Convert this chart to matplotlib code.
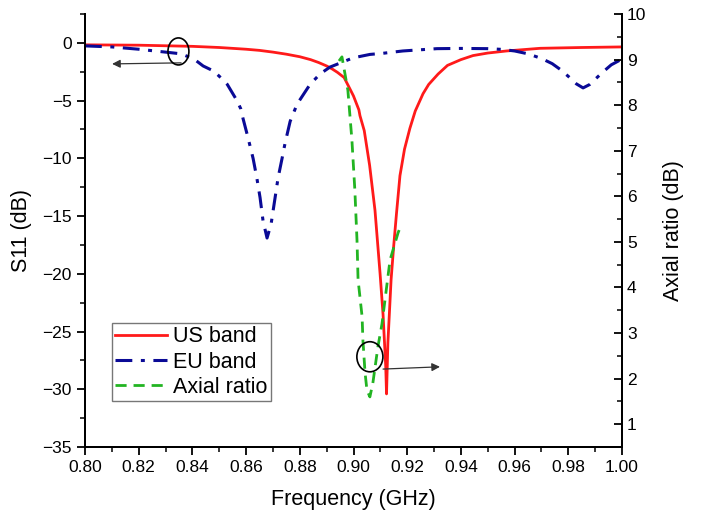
import matplotlib
matplotlib.use("Agg")
import matplotlib.pyplot as plt
from matplotlib.patches import Ellipse
from matplotlib.ticker import MultipleLocator, FormatStrFormatter

plt.rcParams['font.family'] = ['Liberation Sans', 'DejaVu Sans']

# US band S11 (dB)
us_freq = [0.800, 0.820, 0.840, 0.850, 0.860, 0.865, 0.870, 0.875, 0.880, 0.884,
           0.887, 0.890, 0.892, 0.894, 0.8965, 0.8987, 0.900, 0.902, 0.9024, 0.904,
           0.906, 0.908, 0.9099, 0.911, 0.912, 0.9123, 0.9128, 0.914, 0.915, 0.916,
           0.9173, 0.919, 0.921, 0.923, 0.9259, 0.928, 0.9315, 0.935, 0.940, 0.9445,
           0.950, 0.957, 0.9695, 0.985, 1.000]
us_s11 = [-0.17, -0.2, -0.3, -0.4, -0.55, -0.65, -0.8, -0.98, -1.2, -1.45,
          -1.7, -2.0, -2.25, -2.55, -3.0, -4.0, -4.6, -5.8, -6.3, -7.6,
          -10.6, -14.5, -20.0, -23.5, -28.0, -30.4, -26.0, -20.5, -17.5, -14.8,
          -11.5, -9.2, -7.4, -5.9, -4.4, -3.6, -2.7, -1.95, -1.45, -1.1,
          -0.88, -0.7, -0.47, -0.4, -0.35]

# EU band S11 (dB)
eu_freq = [0.800, 0.810, 0.820, 0.826, 0.832, 0.8358, 0.8406, 0.844, 0.848, 0.8505,
           0.853, 0.8566, 0.858, 0.8588, 0.8607, 0.8626, 0.864, 0.8652, 0.8663, 0.8678,
           0.8693, 0.8708, 0.8719, 0.8734, 0.8745, 0.8764, 0.879, 0.8838, 0.8875, 0.8912,
           0.8998, 0.9061, 0.911, 0.9184, 0.9311, 0.940, 0.950, 0.955, 0.960, 0.965,
           0.970, 0.974, 0.977, 0.980, 0.983, 0.9855, 0.988, 0.990, 0.993, 0.996, 1.000]
eu_s11 = [-0.26, -0.35, -0.55, -0.7, -0.85, -0.95, -1.4, -2.0, -2.45, -3.0,
          -3.6, -5.0, -5.7, -6.5, -8.2, -10.0, -11.7, -13.4, -15.4, -16.9,
          -15.7, -13.4, -11.7, -10.0, -8.7, -6.8, -5.3, -3.6, -2.7, -2.1,
          -1.3, -1.0, -0.9, -0.7, -0.5, -0.48, -0.5, -0.56, -0.7, -0.95,
          -1.35, -1.8, -2.3, -2.9, -3.55, -3.9, -3.6, -3.15, -2.5, -1.9, -1.4]

# Axial ratio (dB)
ar_freq = [0.8946, 0.8957, 0.8979, 0.8994, 0.9005, 0.9013, 0.9017, 0.9032, 0.9035,
           0.9043, 0.9050, 0.9061, 0.9072, 0.9091, 0.9106, 0.9121, 0.9136, 0.9166, 0.9170]
ar_db = [8.97, 9.06, 8.33, 7.24, 6.14, 5.04, 4.17, 3.36, 2.85,
         2.13, 1.75, 1.6, 1.9, 2.7, 3.2, 3.9, 4.6, 5.2, 5.26]

fig = plt.figure(figsize=(7.03, 5.19), dpi=100)
ax = fig.add_axes([0.1209, 0.1387, 0.7639, 0.8343])
ax2 = ax.twinx()

l1, = ax.plot(us_freq, us_s11, color='#ff1a1a', lw=2.0, label='US band')
l2, = ax.plot(eu_freq, eu_s11, color='#0a0a96', lw=2.2, label='EU band',
              dashes=(5.5, 2.8, 1.3, 2.8))
l3, = ax2.plot(ar_freq, ar_db, color='#22b422', lw=2.0, label='Axial ratio',
               dashes=(4, 2.5))

ax.set_xlim(0.80, 1.00)
ax.set_ylim(-35, 2.5)
ax2.set_ylim(0.5, 10)

ax.xaxis.set_major_locator(MultipleLocator(0.02))
ax.xaxis.set_minor_locator(MultipleLocator(0.01))
ax.xaxis.set_major_formatter(FormatStrFormatter('%.2f'))
ax.yaxis.set_minor_locator(MultipleLocator(2.5))
ax2.yaxis.set_minor_locator(MultipleLocator(0.5))
ax.set_yticks(range(-35, 1, 5))
ax2.set_yticks(range(1, 11))

for a in (ax, ax2):
    a.spines['top'].set_visible(False)
    for s in a.spines.values():
        s.set_linewidth(1.4)

ax.tick_params(axis='both', which='major', direction='out', length=6, width=1.3,
               labelsize=12.5)
ax.tick_params(axis='both', which='minor', direction='out', length=3.5, width=1.1)
ax2.tick_params(axis='y', which='major', direction='in', length=6, width=1.3,
                labelsize=12.5)
ax2.tick_params(axis='y', which='minor', direction='in', length=3.5, width=1.1)

ax.set_xlabel('Frequency (GHz)', fontsize=15.5, labelpad=10)
ax.set_ylabel('S11 (dB)', fontsize=15.5, labelpad=7)
ax2.set_ylabel('Axial ratio (dB)', fontsize=15.5, labelpad=12)

# annotations: circles and arrows
ax.add_patch(Ellipse((0.8348, -0.74), 0.0078, 2.34, fill=False, ec='black',
                     lw=1.2, zorder=5))
ax.annotate('', xy=(0.8101, -1.82), xytext=(0.8358, -1.73),
            arrowprops=dict(arrowstyle='-|>', color='#333333', lw=0.9,
                            mutation_scale=12, shrinkA=0, shrinkB=0))
ax2.add_patch(Ellipse((0.9061, 2.48), 0.0097, 0.66, fill=False, ec='black',
                      lw=1.2, zorder=5))
ax2.annotate('', xy=(0.9322, 2.26), xytext=(0.9110, 2.21),
             arrowprops=dict(arrowstyle='-|>', color='#333333', lw=0.9,
                             mutation_scale=12, shrinkA=0, shrinkB=0))

leg = ax2.legend([l1, l2, l3], ['US band', 'EU band', 'Axial ratio'],
                 loc='upper left', bbox_to_anchor=(0.1593, 0.3776),
                 bbox_transform=fig.transFigure, fontsize=15.5, frameon=True,
                 fancybox=False, borderaxespad=0, borderpad=0.15,
                 handlelength=2.4, handletextpad=0.3, labelspacing=0.2)
leg.get_frame().set_edgecolor('#555555')
leg.get_frame().set_linewidth(1.0)

fig.savefig('out.png', dpi=100)
